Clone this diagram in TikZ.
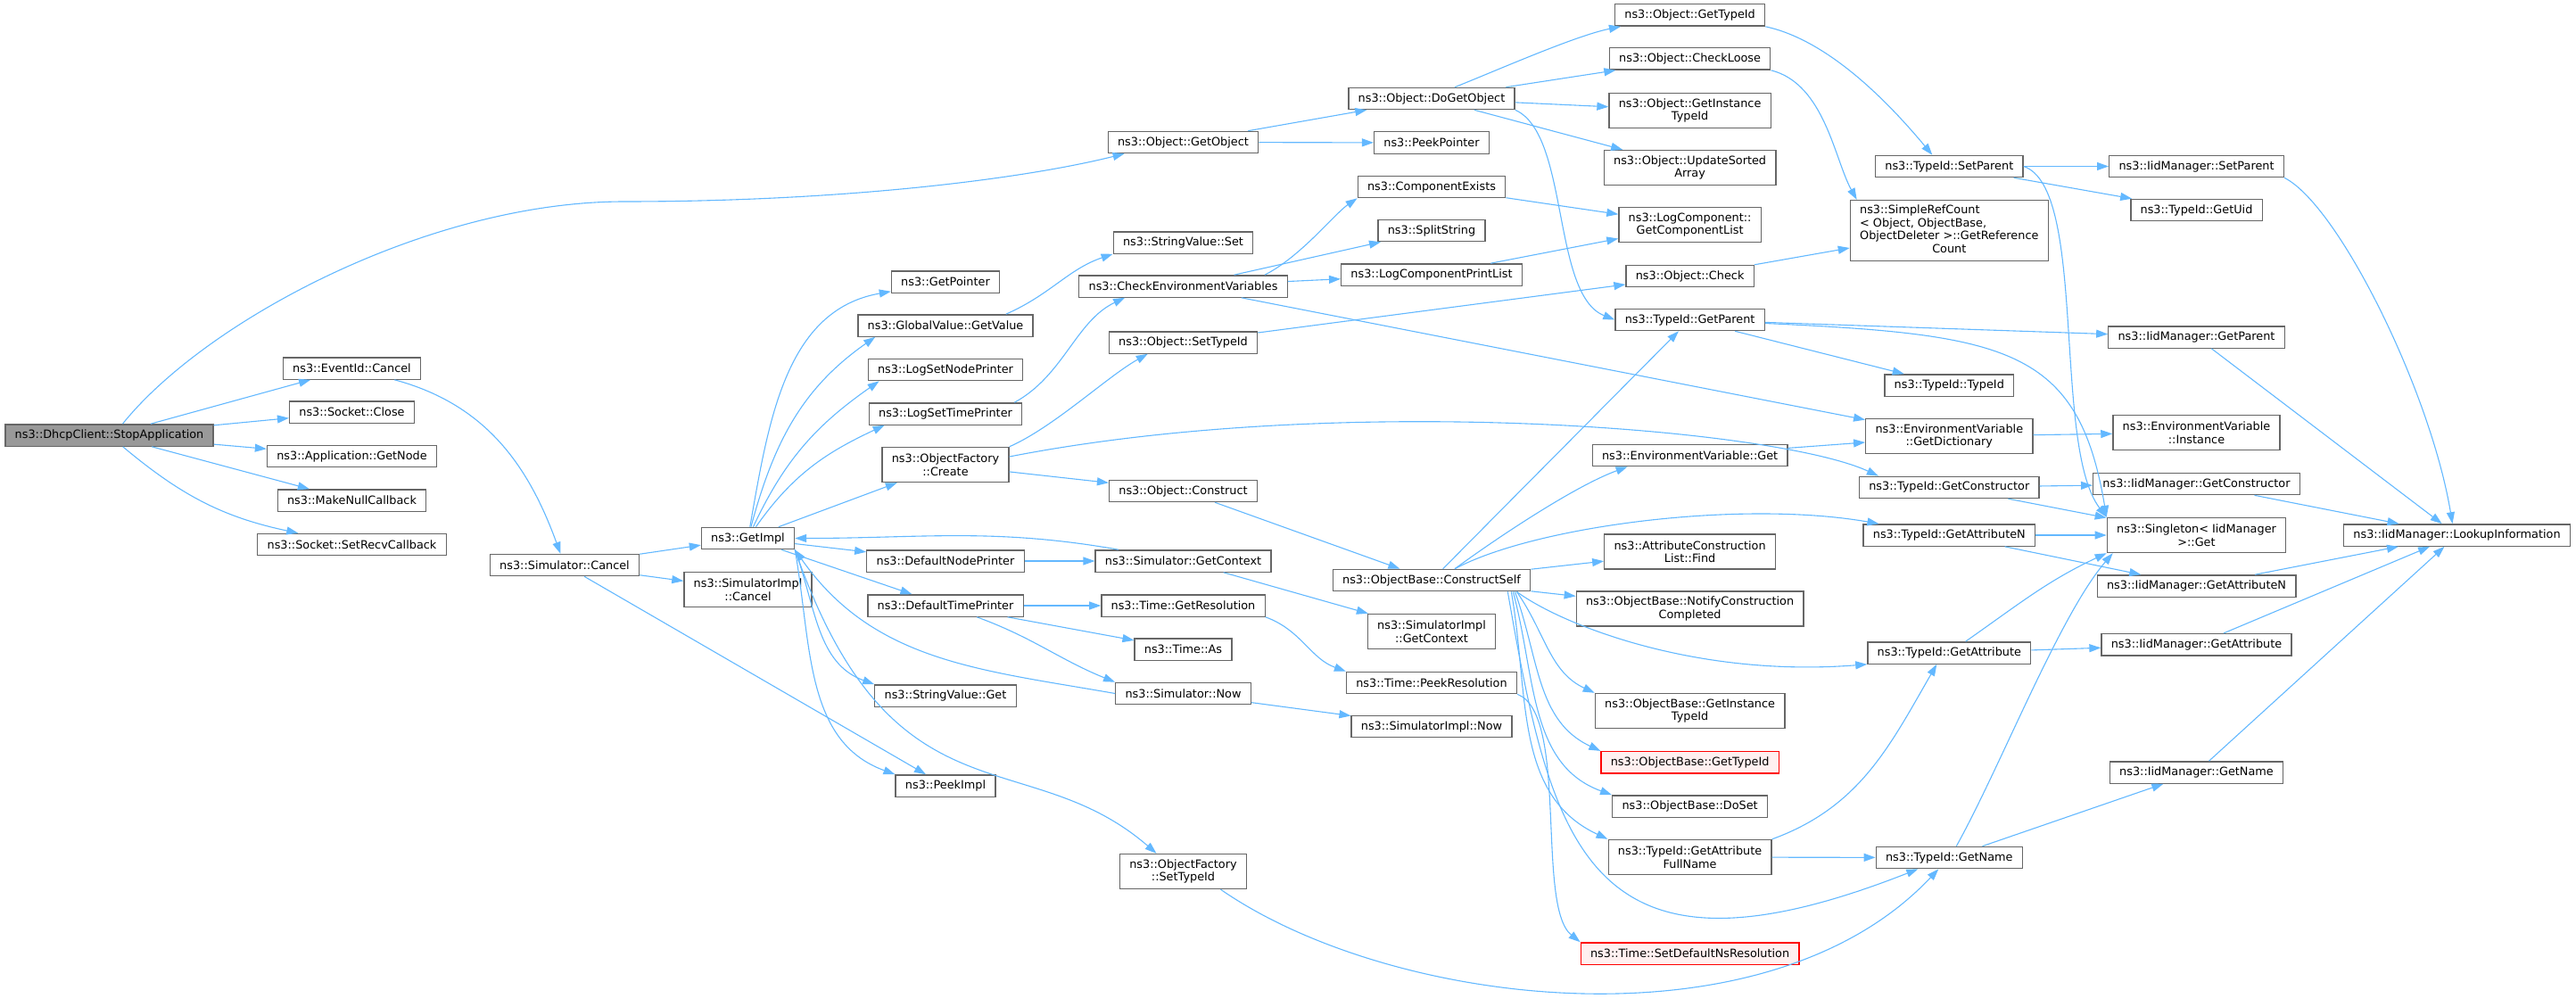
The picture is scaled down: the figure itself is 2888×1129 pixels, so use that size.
\documentclass[tikz,border=0pt]{standalone}
\usepackage{fontspec}
\setmainfont{DejaVu Sans}
\usepackage{tikz}
\usetikzlibrary{arrows.meta}
\definecolor{callblue}{HTML}{63B8FF}
\definecolor{boxgrey}{HTML}{666666}
\definecolor{rootgrey}{HTML}{999999}
\definecolor{redfill}{HTML}{FFF0F0}
\newcommand{\fnfont}{\fontsize{12.84}{14.5}\selectfont}
\tikzstyle{fnnode} = [draw=boxgrey, fill=white, line width=1.3pt, inner xsep=10.8pt, inner ysep=2pt, minimum height=24.3pt, align=center, font=\fnfont]
\tikzstyle{fnnodetwo} = [fnnode, minimum height=39.1pt]
\tikzstyle{rootnode} = [fnnode, fill=rootgrey]
\tikzstyle{undocnode} = [fnnode, draw=red, fill=redfill]
\tikzstyle{callarrow} = [draw=callblue, line width=1.1pt, -{Triangle[length=13pt,width=9pt]}]

\begin{document}
\begin{tikzpicture}[x=1pt,y=-1pt]
\useasboundingbox (0,0) rectangle (2888,1129);
\node[rootnode] (root) at (122.5,488) {ns3::DhcpClient::StopApplication};
\node[fnnode] (event_cancel) at (394.5,413) {ns3::EventId::Cancel};
\node[fnnode] (socket_close) at (394.5,462) {ns3::Socket::Close};
\node[fnnode] (app_get_node) at (394.5,511.5) {ns3::Application::GetNode};
\node[fnnode] (make_null_cb) at (394.5,561) {ns3::MakeNullCallback};
\node[fnnode] (set_recv_cb) at (394.5,610.5) {ns3::Socket::SetRecvCallback};
\node[fnnode] (sim_cancel) at (633,633.5) {ns3::Simulator::Cancel};
\node[fnnode] (get_impl) at (838.5,603.5) {ns3::GetImpl};
\node[fnnodetwo] (simimpl_cancel) at (838.5,661) {ns3::SimulatorImpl\\::Cancel};
\node[fnnode] (get_pointer) at (1060,316) {ns3::GetPointer};
\node[fnnode] (gv_get_value) at (1060,365) {ns3::GlobalValue::GetValue};
\node[fnnode] (log_set_node) at (1060,414.5) {ns3::LogSetNodePrinter};
\node[fnnode] (log_set_time) at (1060,464) {ns3::LogSetTimePrinter};
\node[fnnodetwo] (of_create) at (1060,521) {ns3::ObjectFactory\\::Create};
\node[fnnode] (def_node_printer) at (1060,629) {ns3::DefaultNodePrinter};
\node[fnnode] (def_time_printer) at (1060,679) {ns3::DefaultTimePrinter};
\node[fnnode] (sv_get) at (1060,780) {ns3::StringValue::Get};
\node[fnnode] (peek_impl) at (1060,881) {ns3::PeekImpl};
\node[fnnode] (get_object) at (1326.5,159.5) {ns3::Object::GetObject};
\node[fnnode] (sv_set) at (1326.5,272) {ns3::StringValue::Set};
\node[fnnode] (check_env) at (1326.5,321) {ns3::CheckEnvironmentVariables};
\node[fnnode] (obj_set_typeid) at (1326.5,384) {ns3::Object::SetTypeId};
\node[fnnode] (obj_construct) at (1326.5,550.5) {ns3::Object::Construct};
\node[fnnode] (sim_get_context) at (1326.5,629) {ns3::Simulator::GetContext};
\node[fnnode] (time_get_res) at (1326.5,679) {ns3::Time::GetResolution};
\node[fnnode] (time_as) at (1326.5,728) {ns3::Time::As};
\node[fnnode] (sim_now) at (1326.5,777.5) {ns3::Simulator::Now};
\node[fnnodetwo] (of_set_typeid) at (1326.5,977) {ns3::ObjectFactory\\::SetTypeId};
\node[fnnode] (do_get_object) at (1605,110.5) {ns3::Object::DoGetObject};
\node[fnnode] (peek_pointer) at (1605,160) {ns3::PeekPointer};
\node[fnnode] (comp_exists) at (1605,209.5) {ns3::ComponentExists};
\node[fnnode] (split_string) at (1605,258.5) {ns3::SplitString};
\node[fnnode] (log_comp_print) at (1605,308) {ns3::LogComponentPrintList};
\node[fnnode] (construct_self) at (1605,650.5) {ns3::ObjectBase::ConstructSelf};
\node[fnnodetwo] (simimpl_get_ctx) at (1605,708) {ns3::SimulatorImpl\\::GetContext};
\node[fnnode] (peek_res) at (1605,765.5) {ns3::Time::PeekResolution};
\node[fnnode] (simimpl_now) at (1605,814.5) {ns3::SimulatorImpl::Now};
\node[fnnode] (obj_get_typeid) at (1894.6,17) {ns3::Object::GetTypeId};
\node[fnnode] (check_loose) at (1894.6,66) {ns3::Object::CheckLoose};
\node[fnnodetwo] (obj_get_inst) at (1894.6,124) {ns3::Object::GetInstance\\TypeId};
\node[fnnodetwo] (upd_sorted) at (1894.6,188) {ns3::Object::UpdateSorted\\Array};
\node[fnnodetwo] (get_comp_list) at (1894.6,252) {ns3::LogComponent::\\GetComponentList};
\node[fnnode] (obj_check) at (1894.6,309.5) {ns3::Object::Check};
\node[fnnode] (tid_get_parent) at (1894.6,358.5) {ns3::TypeId::GetParent};
\node[fnnode] (env_get) at (1894.6,510.5) {ns3::EnvironmentVariable::Get};
\node[fnnodetwo] (ac_find) at (1894.6,618.5) {ns3::AttributeConstruction\\List::Find};
\node[fnnodetwo] (notify_cc) at (1894.6,682.5) {ns3::ObjectBase::NotifyConstruction\\Completed};
\node[fnnodetwo] (ob_get_inst) at (1894.6,797) {ns3::ObjectBase::GetInstance\\TypeId};
\node[undocnode] (ob_get_typeid) at (1894.6,854.7) {ns3::ObjectBase::GetTypeId};
\node[fnnode] (ob_doset) at (1894.6,904) {ns3::ObjectBase::DoSet};
\node[fnnodetwo] (tid_get_attr_full) at (1894.6,961) {ns3::TypeId::GetAttribute\\FullName};
\node[undocnode] (set_def_res) at (1894.6,1069) {ns3::Time::SetDefaultNsResolution};
\node[fnnode] (tid_set_parent) at (2185.3,186.5) {ns3::TypeId::SetParent};
\node[fnnode, minimum height=67.7pt] (simple_ref_count) at (2185.3,258.4) {\begin{tabular}{@{}l@{}}ns3::SimpleRefCount\\< Object, ObjectBase,\\ObjectDeleter >::GetReference\\\multicolumn{1}{@{}c@{}}{Count}\end{tabular}};
\node[fnnode] (tid_typeid) at (2185.3,432) {ns3::TypeId::TypeId};
\node[fnnodetwo] (env_get_dict) at (2185.3,489) {ns3::EnvironmentVariable\\::GetDictionary};
\node[fnnode] (tid_get_ctor) at (2185.3,546.4) {ns3::TypeId::GetConstructor};
\node[fnnode] (tid_get_attrn) at (2185.3,600) {ns3::TypeId::GetAttributeN};
\node[fnnode] (tid_get_attr) at (2185.3,732) {ns3::TypeId::GetAttribute};
\node[fnnode] (tid_get_name) at (2185.3,961.5) {ns3::TypeId::GetName};
\node[fnnode] (iid_set_parent) at (2462.5,186.5) {ns3::IidManager::SetParent};
\node[fnnode] (tid_get_uid) at (2462.5,235.5) {ns3::TypeId::GetUid};
\node[fnnode] (iid_get_parent) at (2462.5,378) {ns3::IidManager::GetParent};
\node[fnnodetwo] (env_instance) at (2462.5,485) {ns3::EnvironmentVariable\\::Instance};
\node[fnnode] (iid_get_ctor) at (2462.5,542.5) {ns3::IidManager::GetConstructor};
\node[fnnodetwo] (singleton) at (2462.5,600) {ns3::Singleton< IidManager\\>::Get};
\node[fnnode] (iid_get_attrn) at (2462.5,657) {ns3::IidManager::GetAttributeN};
\node[fnnode] (iid_get_attr) at (2462.5,722.7) {ns3::IidManager::GetAttribute};
\node[fnnode] (iid_get_name) at (2462.5,866) {ns3::IidManager::GetName};
\node[fnnode] (lookup) at (2754.5,600) {ns3::IidManager::LookupInformation};

\draw[callarrow] (root) -- (event_cancel);
\draw[callarrow] (root) -- (socket_close);
\draw[callarrow] (root) -- (app_get_node);
\draw[callarrow] (root) -- (make_null_cb);
\draw[callarrow] (root) to[out=-40,in=168] (set_recv_cb);
\draw[callarrow] ([xshift=15pt]root.north) .. controls (230,360) and (480,226) .. (700,226) .. controls (950,226) and (1150,200) .. ([xshift=19pt]get_object.south west);
\draw[callarrow] (event_cancel) to[out=-15,in=110] (sim_cancel);
\draw[callarrow] (sim_cancel) -- (get_impl);
\draw[callarrow] (sim_cancel) -- (simimpl_cancel);
\draw[callarrow] (sim_cancel) -- (peek_impl);
\draw[callarrow] (get_impl) to[out=80,in=190] (get_pointer);
\draw[callarrow] (get_impl) to[out=75,in=215] ([xshift=20pt]gv_get_value.south west);
\draw[callarrow] (get_impl) to[out=65,in=215] ([xshift=13pt]log_set_node.south west);
\draw[callarrow] (get_impl) to[out=55,in=205] ([xshift=18pt]log_set_time.south west);
\draw[callarrow] (get_impl) -- (of_create);
\draw[callarrow] (get_impl) -- (def_node_printer);
\draw[callarrow] (get_impl) -- (def_time_printer);
\draw[callarrow] (get_impl.south east) to[out=-70,in=160] (sv_get.north west);
\draw[callarrow] (get_impl.south east) to[out=-80,in=160] (peek_impl.north west);
\draw[callarrow] (get_impl.south east) .. controls (1000,930) and (1150,830) .. ([xshift=-30pt]of_set_typeid.north);
\draw[callarrow] (sim_get_context) to[out=170,in=0] (get_impl);
\draw[callarrow] (sim_now.west) to[out=170,in=-55] (get_impl.south east);
\draw[callarrow] (def_node_printer) -- (sim_get_context);
\draw[callarrow] (def_time_printer) -- (time_get_res);
\draw[callarrow] (def_time_printer) -- (time_as);
\draw[callarrow] (def_time_printer) to[out=-20,in=158] (sim_now.north west);
\draw[callarrow] ([xshift=-31pt]gv_get_value.north east) .. controls +(50,-22) and +(-50,17) .. (sv_set.south west);
\draw[callarrow] ([xshift=-9pt]log_set_time.north east) .. controls +(55,-30) and +(-55,26) .. ([xshift=52pt]check_env.south west);
\draw[callarrow] (of_create.north east) .. controls +(50,-22) and +(-45,25) .. ([xshift=44pt]obj_set_typeid.south west);
\draw[callarrow] ([yshift=9pt]of_create.east) .. controls (1500,440) and (1990,480) .. ([xshift=22pt]tid_get_ctor.north west);
\draw[callarrow] (of_create) -- (obj_construct);
\draw[callarrow] (obj_set_typeid) -- (obj_check);
\draw[callarrow] (obj_construct) -- (construct_self);
\draw[callarrow] ([xshift=-26pt]check_env.north east) .. controls +(40,-20) and +(-25,17) .. (comp_exists.south west);
\draw[callarrow] (check_env) -- (split_string);
\draw[callarrow] (check_env) -- (log_comp_print);
\draw[callarrow] (check_env) -- (env_get_dict);
\draw[callarrow] (comp_exists) -- (get_comp_list);
\draw[callarrow] (log_comp_print) -- (get_comp_list);
\draw[callarrow] (get_object) -- (do_get_object);
\draw[callarrow] (get_object) -- (peek_pointer);
\draw[callarrow] ([xshift=26pt]do_get_object.north) .. controls +(50,-20) and +(-50,10) .. ([xshift=7pt]obj_get_typeid.south west);
\draw[callarrow] (do_get_object) -- (check_loose);
\draw[callarrow] (do_get_object) -- (obj_get_inst);
\draw[callarrow] (do_get_object) -- (upd_sorted);
\draw[callarrow] (do_get_object.south east) .. controls +(61,27) and +(-71,-28) .. (tid_get_parent.west);
\draw[callarrow] (obj_get_typeid.south east) .. controls +(70,15) and +(-50,-60) .. ([xshift=-19pt]tid_set_parent.north);
\draw[callarrow] (check_loose.south east) .. controls +(60,15) and +(-25,-45) .. ([xshift=8pt]simple_ref_count.north west);
\draw[callarrow] (obj_check) -- (simple_ref_count);
\draw[callarrow] (tid_set_parent) -- (iid_set_parent);
\draw[callarrow] (tid_set_parent) -- (tid_get_uid);
\draw[callarrow] (tid_set_parent.east) .. controls +(72,24) and +(-61,-80) .. (singleton.north west);
\draw[callarrow] (iid_set_parent.south east) .. controls +(60,30) and +(-25,-150) .. ([xshift=-5pt]lookup.north);
\draw[callarrow] (tid_get_parent) -- (iid_get_parent);
\draw[callarrow] (tid_get_parent) -- (tid_typeid);
\draw[callarrow] ([yshift=-4pt]tid_get_parent.east) .. controls (2250,375) and (2330,390) .. (singleton.north west);
\draw[callarrow] (iid_get_parent) -- (lookup);
\draw[callarrow] (env_get) -- (env_get_dict);
\draw[callarrow] (env_get_dict) -- (env_instance);
\draw[callarrow] (tid_get_ctor) -- (iid_get_ctor);
\draw[callarrow] (tid_get_ctor) -- (singleton);
\draw[callarrow] (iid_get_ctor) -- (lookup);
\draw[callarrow] (tid_get_attrn) -- (singleton);
\draw[callarrow] (tid_get_attrn) -- (iid_get_attrn);
\draw[callarrow] (iid_get_attrn) -- (lookup);
\draw[callarrow] (tid_get_attr) -- (iid_get_attr);
\draw[callarrow] (tid_get_attr) to[out=35,in=205] (singleton.south west);
\draw[callarrow] (iid_get_attr) -- (lookup);
\draw[callarrow] ([xshift=8pt]tid_get_name.north) .. controls +(50,-90) and +(-60,70) .. ([xshift=7pt]singleton.south west);
\draw[callarrow] (tid_get_name) -- (iid_get_name);
\draw[callarrow] (iid_get_name) -- (lookup);
\draw[callarrow] (construct_self) -- (tid_get_parent);
\draw[callarrow] ([xshift=26pt]construct_self.north) .. controls +(45,-33) and +(-60,22) .. ([xshift=40pt]env_get.south west);
\draw[callarrow] ([xshift=26pt]construct_self.north) .. controls (1720,590) and (1950,560) .. ([xshift=18pt]tid_get_attrn.north west);
\draw[callarrow] (construct_self) -- (ac_find);
\draw[callarrow] (construct_self) -- (notify_cc);
\draw[callarrow] ([xshift=-16pt]construct_self.south east) .. controls (1750,700) and (1900,760) .. (tid_get_attr.south west);
\draw[callarrow] ([xshift=-16pt]construct_self.south east) to[out=-55,in=155] (ob_get_inst.north west);
\draw[callarrow] ([xshift=-18pt]construct_self.south east) to[out=-70,in=155] (ob_get_typeid.north west);
\draw[callarrow] ([xshift=-20pt]construct_self.south east) to[out=-75,in=160] (ob_doset.north west);
\draw[callarrow] ([xshift=-22pt]construct_self.south east) to[out=-80,in=155] (tid_get_attr_full.north west);
\draw[callarrow] ([xshift=-26pt]construct_self.south east) .. controls (1740,950) and (1780,1120) .. ([xshift=-35pt]tid_get_name.south);
\draw[callarrow] (tid_get_attr_full) -- (tid_get_name);
\draw[callarrow] (tid_get_attr_full.north east) to[out=20,in=-120] ([xshift=-14pt]tid_get_attr.south);
\draw[callarrow] (sim_get_context) -- (simimpl_get_ctx);
\draw[callarrow] (time_get_res.south east) to[out=-20,in=160] (peek_res.north west);
\draw[callarrow] (sim_now) -- (simimpl_now);
\draw[callarrow] (peek_res.south east) .. controls +(58,22) and +(-50,-40) .. (set_def_res.north west);
\draw[callarrow] ([xshift=42pt]of_set_typeid.south) .. controls (1560,1130) and (1980,1180) .. ([xshift=-12pt]tid_get_name.south);
\end{tikzpicture}
\end{document}
